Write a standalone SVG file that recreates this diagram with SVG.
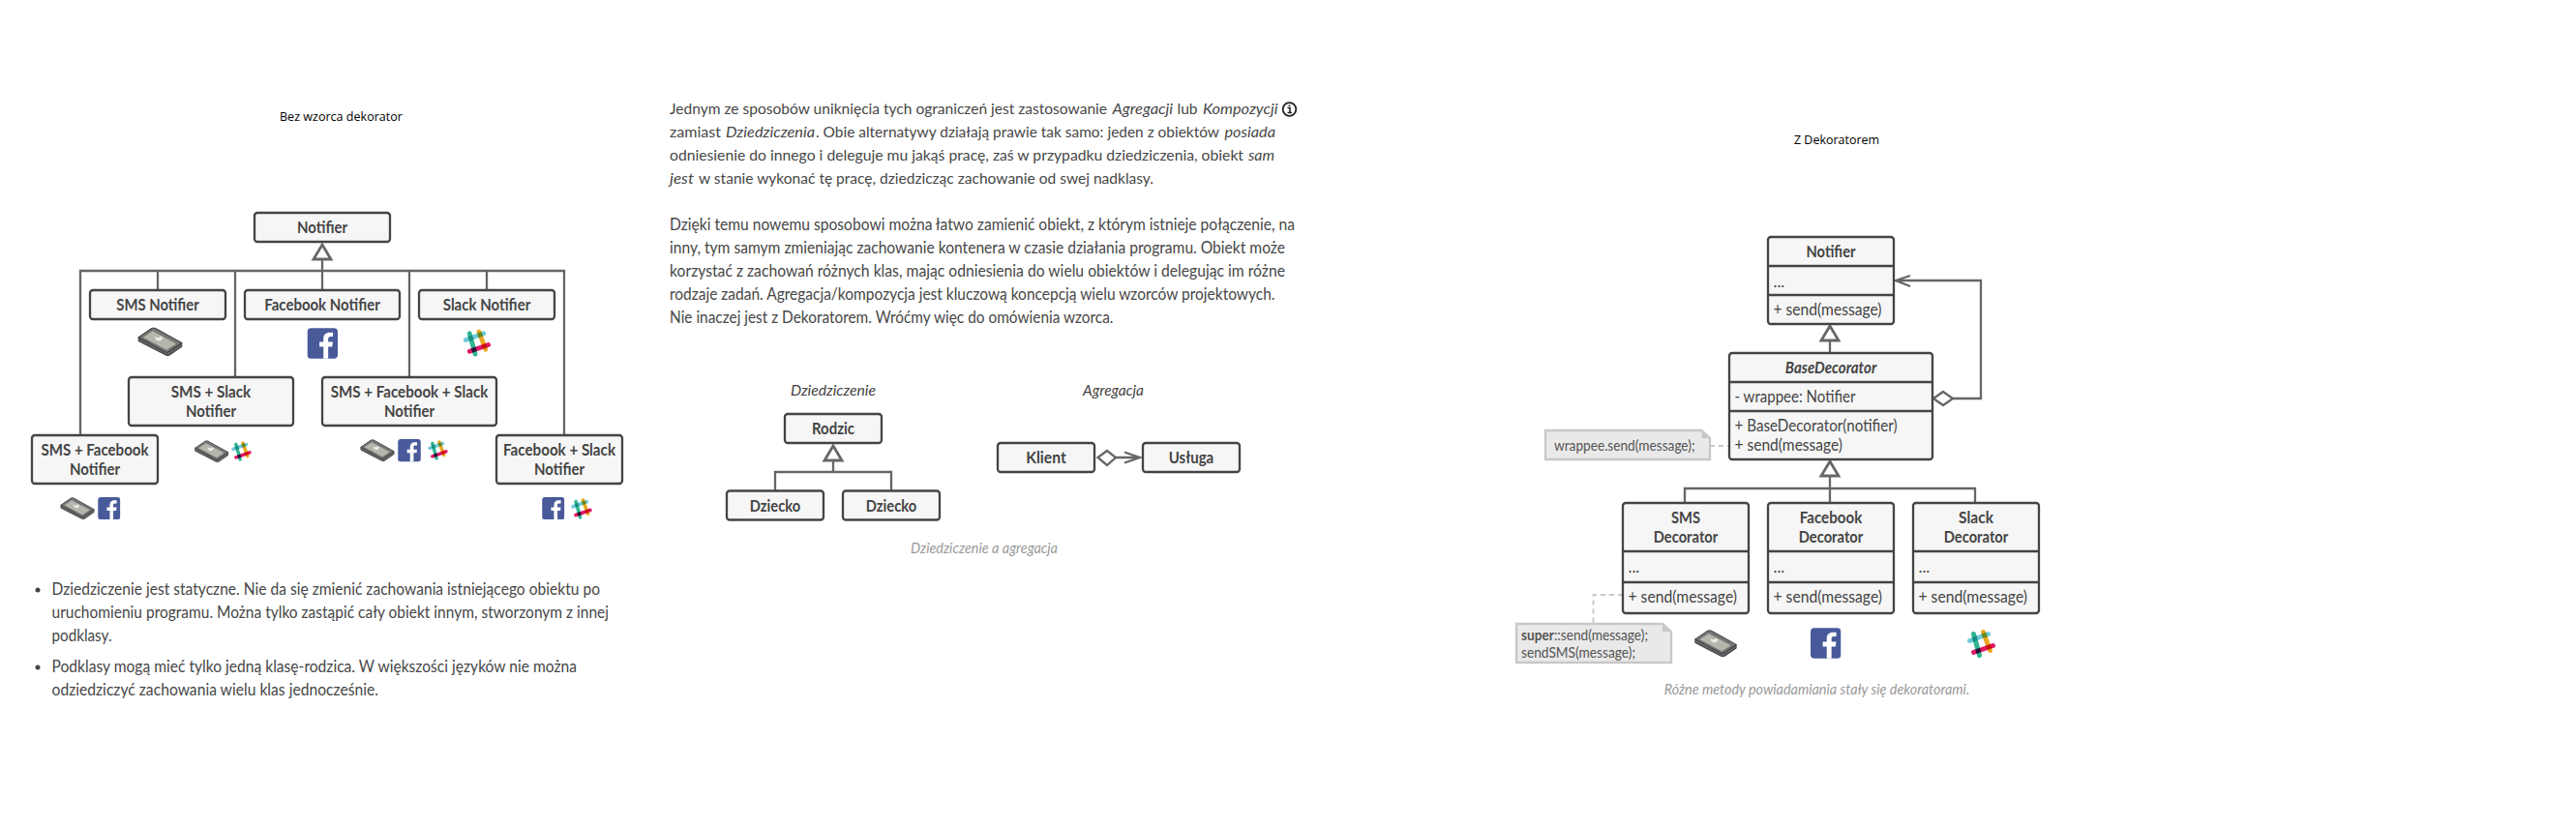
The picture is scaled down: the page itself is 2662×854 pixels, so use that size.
<svg xmlns="http://www.w3.org/2000/svg" width="2662" height="854" viewBox="0 0 2662 854">
<style>
text{font-family:"Lato","Open Sans",sans-serif;fill:#444}
.box{fill:#f6f6f6;stroke:#444;stroke-width:2.300}
.div{stroke:#444;stroke-width:2.300;fill:none}
.b{font-weight:700;font-size:17px;text-anchor:middle}
.m{font-size:16.500px}
.p{font-size:16.500px;fill:#474747}
.s{font-size:15.500px;fill:#474747}
.i{font-style:italic}
.ttl{font-family:"Open Sans",sans-serif;font-size:13.500px;fill:#000;text-anchor:middle}
.cap{font-style:italic;font-size:15.500px;fill:#999;text-anchor:middle}
.h{font-style:italic;font-size:15.500px;text-anchor:middle}
.c{fill:none;stroke:#666;stroke-width:2.300}
.tri{fill:#fff;stroke:#666;stroke-width:2.800}
.dash{fill:none;stroke:#c8c8c8;stroke-width:2;stroke-dasharray:5 4}
.note{fill:#e9e9e9;stroke:#c8c8c8;stroke-width:2.300}
.fold{fill:#c8c8c8}
.n{font-size:15px;fill:#555}
</style>
<defs>
<symbol id="phone" viewBox="0 0 48 31">
<path d="M1 11V15L30 30Q32 31 34 30L47 21V17L32 27Z" fill="#666" stroke="#444" stroke-width="1.200" stroke-linejoin="round"/>
<path d="M1 11L15 1.500Q17 .5 19 1.500L47 17L33 26.500Q31 27.500 29 26.500Z" fill="#777" stroke="#444" stroke-width="1.200" stroke-linejoin="round"/>
<path d="M6 11L16 4.500L41 18L31 24.500Z" fill="#b6b6ac"/>
<path d="M18 10.500L22 11.500L25 10L27 11.500L25 14.500Q21 16 19 13Z" fill="#ecece6"/>
</symbol>
<symbol id="fb" viewBox="0 0 32 32">
<rect width="32" height="32" rx="4" fill="#485a9a"/>
<path d="M22 32V19.500h4.200l.7-5H22V11.500c0-1.500.5-2.500 2.500-2.500H27V4.700C26.500 4.600 25 4.500 23.500 4.500c-3.700 0-6.500 2.200-6.500 6.400V14.500h-4.200v5H17V32Z" fill="#fff"/>
</symbol>
<symbol id="slack" viewBox="0 0 30 30">
<g fill="none" stroke-width="5" stroke-linecap="round" style="isolation:isolate">
<path d="M3 12L22 5" stroke="#70cadb"/>
<path d="M7 5L13 27" stroke="#2fb591" style="mix-blend-mode:multiply"/>
<path d="M17 3L24 22" stroke="#e9a820" style="mix-blend-mode:multiply"/>
<path d="M7 24L27 17" stroke="#e01765" style="mix-blend-mode:multiply"/>
</g>
</symbol>
</defs>

<g id="connectors">
<path class="c" d="M333 268V300M83 450V280H583V450M163 280V300M243 280V390M423 280V390M503 280V300"/>
<path class="tri" d="M333 253L342 268H324Z"/>
<path class="c" d="M861 476V488M801 507V488H921V507"/>
<path class="tri" d="M861 461L870 476H852Z"/>
<path class="c" d="M1153 473H1178M1162 467.500L1178 473L1162 478.500"/>
<path class="tri" d="M1134.500 473L1144 466L1153 473L1144 481Z" style="stroke-width:2.300"/>
<path class="c" d="M1891 352V365"/>
<path class="tri" d="M1891 337L1900 352H1882Z"/>
<path class="c" d="M2018 412H2047V290H1959M1974 285L1959 290L1974 296"/>
<path class="tri" d="M1998 412L2008 405L2018 412L2008 419Z" style="stroke-width:2.300"/>
<path class="c" d="M1891 492V520M1741 520V505H2041V520"/>
<path class="tri" d="M1891 477L1900 492H1882Z"/>
<path class="dash" d="M1767 461H1787M1677 615H1646.500V644"/>
</g>

<text class="ttl" x="352.500" y="125" textLength="127" lengthAdjust="spacingAndGlyphs">Bez wzorca dekorator</text>

<g id="n-notifier"><rect class="box" x="263" y="220" width="140" height="30" rx="3"/><text class="b" x="333" y="241" textLength="52" lengthAdjust="spacingAndGlyphs">Notifier</text></g>
<g id="n-sms"><rect class="box" x="93" y="300" width="140" height="30" rx="3"/><text class="b" x="163" y="321" textLength="85.500" lengthAdjust="spacingAndGlyphs">SMS Notifier</text><use href="#phone" x="142" y="338" width="47" height="30"/></g>
<g id="n-facebook"><rect class="box" x="253" y="300" width="160" height="30" rx="3"/><text class="b" x="333" y="321" textLength="119.500" lengthAdjust="spacingAndGlyphs">Facebook Notifier</text><use href="#fb" x="317.500" y="339" width="31.500" height="32"/></g>
<g id="n-slack"><rect class="box" x="433" y="300" width="140" height="30" rx="3"/><text class="b" x="503" y="321" textLength="90.500" lengthAdjust="spacingAndGlyphs">Slack Notifier</text><use href="#slack" x="478.500" y="340" width="29" height="29"/></g>
<g id="n-sms-slack"><rect class="box" x="133" y="390" width="170" height="50" rx="3"/><text class="b" x="218" y="411" textLength="82.500" lengthAdjust="spacingAndGlyphs">SMS + Slack</text><text class="b" x="218" y="431" textLength="52" lengthAdjust="spacingAndGlyphs">Notifier</text><use href="#phone" x="201" y="455" width="35.500" height="23"/><use href="#slack" x="239" y="456" width="21" height="21"/></g>
<g id="n-sms-fb-slack"><rect class="box" x="333" y="390" width="180" height="50" rx="3"/><text class="b" x="423" y="411" textLength="162.500" lengthAdjust="spacingAndGlyphs">SMS + Facebook + Slack</text><text class="b" x="423" y="431" textLength="52" lengthAdjust="spacingAndGlyphs">Notifier</text><use href="#phone" x="372" y="454" width="36" height="23"/><use href="#fb" x="411" y="454" width="24" height="23.500"/><use href="#slack" x="442" y="455" width="21" height="21"/></g>
<g id="n-sms-fb"><rect class="box" x="33" y="450" width="130" height="50" rx="3"/><text class="b" x="98" y="471" textLength="111" lengthAdjust="spacingAndGlyphs">SMS + Facebook</text><text class="b" x="98" y="491" textLength="52" lengthAdjust="spacingAndGlyphs">Notifier</text><use href="#phone" x="62" y="514" width="36" height="23"/><use href="#fb" x="101" y="514" width="23.500" height="23"/></g>
<g id="n-fb-slack"><rect class="box" x="513" y="450" width="130" height="50" rx="3"/><text class="b" x="578" y="471" textLength="116" lengthAdjust="spacingAndGlyphs">Facebook + Slack</text><text class="b" x="578" y="491" textLength="52" lengthAdjust="spacingAndGlyphs">Notifier</text><use href="#fb" x="560" y="514" width="23.500" height="23"/><use href="#slack" x="590" y="515" width="22" height="22"/></g>

<g id="bullets">
<circle cx="39" cy="610" r="2.500" fill="#444"/><circle cx="39" cy="690" r="2.500" fill="#444"/>
<text class="p" x="53.500" y="615" textLength="566.500" lengthAdjust="spacingAndGlyphs">Dziedziczenie jest statyczne. Nie da się zmienić zachowania istniejącego obiektu po</text>
<text class="p" x="53.500" y="639" textLength="575.500" lengthAdjust="spacingAndGlyphs">uruchomieniu programu. Można tylko zastąpić cały obiekt innym, stworzonym z innej</text>
<text class="p" x="53.500" y="663" textLength="62" lengthAdjust="spacingAndGlyphs">podklasy.</text>
<text class="p" x="53.500" y="695" textLength="542.500" lengthAdjust="spacingAndGlyphs">Podklasy mogą mieć tylko jedną klasę-rodzica. W większości języków nie można</text>
<text class="p" x="53.500" y="719" textLength="337.500" lengthAdjust="spacingAndGlyphs">odziedziczyć zachowania wielu klas jednocześnie.</text>
</g>

<g id="paragraph">
<text class="s" x="692" y="118" textLength="452" lengthAdjust="spacingAndGlyphs">Jednym ze sposobów uniknięcia tych ograniczeń jest zastosowanie</text>
<text class="s i" x="1149.500" y="118" textLength="62.500" lengthAdjust="spacingAndGlyphs">Agregacji</text>
<text class="s" x="1216.500" y="118" textLength="21" lengthAdjust="spacingAndGlyphs">lub</text>
<text class="s i" x="1243" y="118" textLength="77.500" lengthAdjust="spacingAndGlyphs">Kompozycji</text>
<circle cx="1332.500" cy="113" r="6.800" fill="none" stroke="#222" stroke-width="1.800"/><path d="M1330.500 111.500H1333V116.500M1330.500 116.500H1335M1332.500 108.500V110" fill="none" stroke="#222" stroke-width="1.600"/>
<text class="s" x="692" y="142" textLength="53" lengthAdjust="spacingAndGlyphs">zamiast</text>
<text class="s i" x="750" y="142" textLength="92" lengthAdjust="spacingAndGlyphs">Dziedziczenia</text>
<text class="s" x="843" y="142" textLength="417" lengthAdjust="spacingAndGlyphs">. Obie alternatywy działają prawie tak samo: jeden z obiektów</text>
<text class="s i" x="1265.500" y="142" textLength="52.500" lengthAdjust="spacingAndGlyphs">posiada</text>
<text class="s" x="692" y="166" textLength="593" lengthAdjust="spacingAndGlyphs">odniesienie do innego i deleguje mu jakąś pracę, zaś w przypadku dziedziczenia, obiekt</text>
<text class="s i" x="1290" y="166" textLength="27" lengthAdjust="spacingAndGlyphs">sam</text>
<text class="s i" x="692" y="190" textLength="25" lengthAdjust="spacingAndGlyphs">jest</text>
<text class="s" x="722" y="190" textLength="470" lengthAdjust="spacingAndGlyphs">w stanie wykonać tę pracę, dziedzicząc zachowanie od swej nadklasy.</text>
<text class="p" x="692" y="238" textLength="646" lengthAdjust="spacingAndGlyphs">Dzięki temu nowemu sposobowi można łatwo zamienić obiekt, z którym istnieje połączenie, na</text>
<text class="p" x="692" y="262" textLength="636" lengthAdjust="spacingAndGlyphs">inny, tym samym zmieniając zachowanie kontenera w czasie działania programu. Obiekt może</text>
<text class="p" x="692" y="286" textLength="636" lengthAdjust="spacingAndGlyphs">korzystać z zachowań różnych klas, mając odniesienia do wielu obiektów i delegując im różne</text>
<text class="p" x="692" y="310" textLength="625.500" lengthAdjust="spacingAndGlyphs">rodzaje zadań. Agregacja/kompozycja jest kluczową koncepcją wielu wzorców projektowych.</text>
<text class="p" x="692" y="334" textLength="458.500" lengthAdjust="spacingAndGlyphs">Nie inaczej jest z Dekoratorem. Wróćmy więc do omówienia wzorca.</text>
</g>

<text class="h" x="861" y="409" textLength="88" lengthAdjust="spacingAndGlyphs">Dziedziczenie</text>
<text class="h" x="1150.500" y="409" textLength="63" lengthAdjust="spacingAndGlyphs">Agregacja</text>
<g id="n-rodzic"><rect class="box" x="811" y="428" width="100" height="30" rx="3"/><text class="b" x="861" y="449" textLength="44" lengthAdjust="spacingAndGlyphs">Rodzic</text></g>
<g id="n-dziecko1"><rect class="box" x="751" y="507.500" width="100" height="30" rx="3"/><text class="b" x="801" y="529" textLength="52.500" lengthAdjust="spacingAndGlyphs">Dziecko</text></g>
<g id="n-dziecko2"><rect class="box" x="871" y="507.500" width="100" height="30" rx="3"/><text class="b" x="921" y="529" textLength="52.500" lengthAdjust="spacingAndGlyphs">Dziecko</text></g>
<g id="n-klient"><rect class="box" x="1031" y="458" width="100" height="30" rx="3"/><text class="b" x="1081" y="479" textLength="41.500" lengthAdjust="spacingAndGlyphs">Klient</text></g>
<g id="n-usluga"><rect class="box" x="1181" y="458" width="100" height="30" rx="3"/><text class="b" x="1231" y="479" textLength="46.500" lengthAdjust="spacingAndGlyphs">Usługa</text></g>
<text class="cap" x="1017" y="572" textLength="152" lengthAdjust="spacingAndGlyphs">Dziedziczenie a agregacja</text>

<text class="ttl" x="1898" y="149" textLength="88" lengthAdjust="spacingAndGlyphs">Z Dekoratorem</text>
<g id="u-notifier"><rect class="box" x="1827" y="245" width="130" height="90" rx="3"/><path class="div" d="M1827 275H1957M1827 305H1957"/><text class="b" x="1892" y="266" textLength="51" lengthAdjust="spacingAndGlyphs">Notifier</text><text class="m" x="1832.500" y="297">...</text><text class="m" x="1832.500" y="326" textLength="112" lengthAdjust="spacingAndGlyphs">+ send(message)</text></g>
<g id="u-base"><rect class="box" x="1787" y="365" width="210" height="110" rx="3"/><path class="div" d="M1787 395H1997M1787 425H1997"/><text class="b i" x="1892" y="386" textLength="94.500" lengthAdjust="spacingAndGlyphs">BaseDecorator</text><text class="m" x="1792.500" y="416" textLength="125" lengthAdjust="spacingAndGlyphs">- wrappee: Notifier</text><text class="m" x="1792.500" y="446" textLength="168" lengthAdjust="spacingAndGlyphs">+ BaseDecorator(notifier)</text><text class="m" x="1792.500" y="466" textLength="111.500" lengthAdjust="spacingAndGlyphs">+ send(message)</text></g>
<g id="note-wrappee"><path class="note" d="M1597 445H1758.500L1767 453V475H1597Z"/><path class="fold" d="M1758.500 445L1767 453H1758.500Z"/><text class="n" x="1606" y="466" textLength="145.500" lengthAdjust="spacingAndGlyphs">wrappee.send(message);</text></g>
<g id="u-sms"><rect class="box" x="1677" y="520" width="130" height="114" rx="3"/><path class="div" d="M1677 570H1807M1677 602H1807"/><text class="b" x="1742" y="541" textLength="30" lengthAdjust="spacingAndGlyphs">SMS</text><text class="b" x="1742" y="561" textLength="66.500" lengthAdjust="spacingAndGlyphs">Decorator</text><text class="m" x="1682.500" y="592">...</text><text class="m" x="1682.500" y="623" textLength="112.500" lengthAdjust="spacingAndGlyphs">+ send(message)</text><use href="#phone" x="1751" y="650.500" width="44" height="29"/></g>
<g id="u-facebook"><rect class="box" x="1827" y="520" width="130" height="114" rx="3"/><path class="div" d="M1827 570H1957M1827 602H1957"/><text class="b" x="1892" y="541" textLength="64.500" lengthAdjust="spacingAndGlyphs">Facebook</text><text class="b" x="1892" y="561" textLength="66.500" lengthAdjust="spacingAndGlyphs">Decorator</text><text class="m" x="1832.500" y="592">...</text><text class="m" x="1832.500" y="623" textLength="112.500" lengthAdjust="spacingAndGlyphs">+ send(message)</text><use href="#fb" x="1871" y="649" width="31.500" height="32"/></g>
<g id="u-slack"><rect class="box" x="1977" y="520" width="130" height="114" rx="3"/><path class="div" d="M1977 570H2107M1977 602H2107"/><text class="b" x="2042" y="541" textLength="36" lengthAdjust="spacingAndGlyphs">Slack</text><text class="b" x="2042" y="561" textLength="66.500" lengthAdjust="spacingAndGlyphs">Decorator</text><text class="m" x="1982.500" y="592">...</text><text class="m" x="1982.500" y="623" textLength="112.500" lengthAdjust="spacingAndGlyphs">+ send(message)</text><use href="#slack" x="2032.500" y="650.500" width="30" height="30"/></g>
<g id="note-super"><path class="note" d="M1567 645H1718L1727 653V685H1567Z"/><path class="fold" d="M1718 645L1727 653H1718Z"/><text class="n" x="1572" y="661.500" textLength="131" lengthAdjust="spacingAndGlyphs"><tspan font-weight="700">super</tspan>::send(message);</text><text class="n" x="1572" y="679.500" textLength="118" lengthAdjust="spacingAndGlyphs">sendSMS(message);</text></g>
<text class="cap" x="1877.500" y="718" textLength="315.500" lengthAdjust="spacingAndGlyphs">Różne metody powiadamiania stały się dekoratorami.</text>
</svg>
